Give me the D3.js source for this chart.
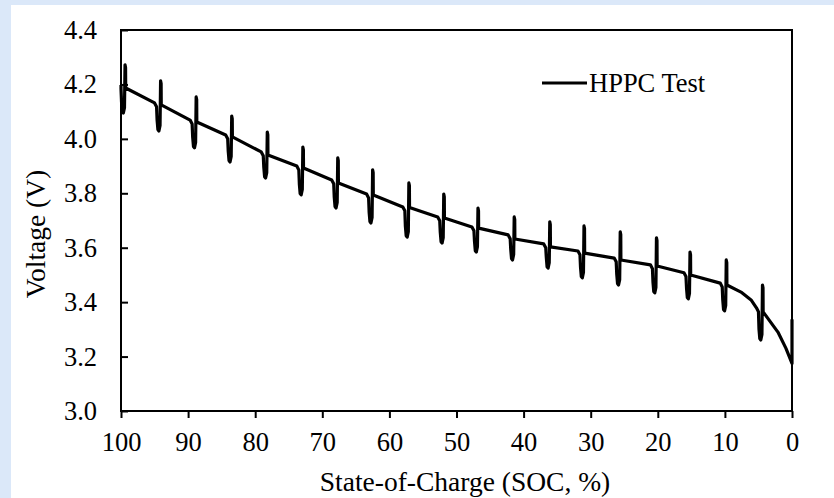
<!DOCTYPE html>
<html>
<head>
<meta charset="utf-8">
<script src="https://cdn.jsdelivr.net/npm/d3@7"></script>
<style>
  html, body { margin: 0; padding: 0; background: #dbe8f9; }
  svg { display: block; }
  text { font-family: "Liberation Serif", "Times New Roman", serif; fill: #000; }
</style>
</head>
<body>
<svg id="chart" width="834" height="498"></svg>
<script>
// ---- data ----
const socTicks = [100, 90, 80, 70, 60, 50, 40, 30, 20, 10, 0];
const voltTicks = [3.0, 3.2, 3.4, 3.6, 3.8, 4.0, 4.2, 4.4];
const seriesName = "HPPC Test";

// one HPPC pulse per ~5.3 % SOC step
const pulseSOC   = [99.3, 94.0, 88.7, 83.4, 78.1, 72.8, 67.6, 62.4, 57.0, 51.8, 46.7, 41.3, 36.0, 30.9, 25.5, 20.1, 15.1, 9.7, 4.3];
const lineBefore = [4.198, 4.132, 4.069, 4.014, 3.952, 3.900, 3.849, 3.797, 3.750, 3.713, 3.676, 3.647, 3.614, 3.588, 3.562, 3.537, 3.508, 3.470, 3.379];
const pulseMin   = [4.095, 4.029, 3.967, 3.915, 3.856, 3.794, 3.746, 3.691, 3.639, 3.617, 3.584, 3.555, 3.525, 3.489, 3.463, 3.434, 3.412, 3.368, 3.261];
const pulseMax   = [4.272, 4.213, 4.154, 4.084, 4.025, 3.970, 3.930, 3.886, 3.838, 3.797, 3.746, 3.713, 3.695, 3.680, 3.658, 3.636, 3.584, 3.555, 3.463];
const lineAfter  = [4.187, 4.125, 4.062, 4.007, 3.941, 3.893, 3.838, 3.794, 3.748, 3.709, 3.672, 3.632, 3.603, 3.580, 3.555, 3.533, 3.500, 3.463, 3.364];
// curved parts of the trace at low SOC
const bendSOC = [7.6, 6.1, 2.1, 0.9];
const bendV   = [3.437, 3.408, 3.290, 3.230];
const endSOC = 0, endV = 3.175, endSpikeV = 3.334;

// ---- layout ----
const svg = d3.select("#chart");
svg.append("rect").attr("x", 11).attr("y", 5).attr("width", 834 - 11).attr("height", 498 - 5).attr("fill", "#fff");

const pL = 121, pR = 792, pT = 30, pB = 411;
const x = d3.scaleLinear().domain([100, 0]).range([pL, pR]);
const y = d3.scaleLinear().domain([3.0, 4.4]).range([pB, pT]);

// build trace points
const pts = [];
pulseSOC.forEach((s, i) => {
  if (i === 0) pts.push([100, lineBefore[i]]);
  pts.push([Math.min(100, s + 1.0), lineBefore[i]]);
  pts.push([Math.min(100, s + 0.7), lineBefore[i] - 0.014]);
  pts.push([Math.min(100, s + 0.62), pulseMin[i] + 0.04]);
  pts.push([s + 0.5, pulseMin[i] + 0.005]);
  pts.push([s + 0.35, pulseMin[i]]);
  pts.push([s + 0.18, pulseMin[i] + 0.02]);
  pts.push([s + 0.1, pulseMax[i]]);
  pts.push([s + 0.02, pulseMax[i] - 0.01]);
  pts.push([s, lineAfter[i]]);
  const next = i + 1 < pulseSOC.length ? pulseSOC[i + 1] + 1.0 : endSOC;
  bendSOC.forEach((b, j) => { if (b < s && b > next) pts.push([b, bendV[j]]); });
});
pts.push([endSOC, endV]);
pts.push([endSOC, endSpikeV]);
pts.push([endSOC, endV + 0.005]);

const line = d3.line().x(d => x(d[0])).y(d => y(d[1]));
svg.append("path").datum(pts).attr("d", line)
  .attr("fill", "none").attr("stroke", "#000").attr("stroke-width", 3.2)
  .attr("stroke-linejoin", "round");

// frame
svg.append("rect").attr("x", pL).attr("y", pT).attr("width", pR - pL).attr("height", pB - pT)
  .attr("fill", "none").attr("stroke", "#000").attr("stroke-width", 2);

// y axis (inward ticks)
const yAxis = svg.append("g").attr("transform", `translate(${pL},0)`)
  .call(d3.axisLeft(y).tickValues(voltTicks).tickFormat(d3.format(".1f")).tickSize(-7).tickPadding(24));
yAxis.attr("font-family", null);
yAxis.select(".domain").remove();
yAxis.selectAll(".tick line").attr("stroke", "#000").attr("stroke-width", 2);
yAxis.selectAll(".tick text").attr("font-size", "26.5px");

// x axis (outward ticks)
const xAxis = svg.append("g").attr("transform", `translate(0,${pB})`)
  .call(d3.axisBottom(x).tickValues(socTicks).tickFormat(d3.format("d")).tickSize(7).tickPadding(14));
xAxis.attr("font-family", null);
xAxis.select(".domain").remove();
xAxis.selectAll(".tick line").attr("stroke", "#000").attr("stroke-width", 2);
xAxis.selectAll(".tick text").attr("font-size", "26.5px");

// axis titles
svg.append("text").attr("x", 465).attr("y", 491).attr("text-anchor", "middle")
  .attr("font-size", "27.5px").text("State-of-Charge (SOC, %)");
svg.append("text").attr("transform", "translate(45,234) rotate(-90)").attr("text-anchor", "middle")
  .attr("font-size", "27.5px").text("Voltage (V)");

// legend
svg.append("line").attr("x1", 542).attr("x2", 587).attr("y1", 83).attr("y2", 83)
  .attr("stroke", "#000").attr("stroke-width", 3);
svg.append("text").attr("x", 589).attr("y", 92).attr("font-size", "26.5px").text(seriesName);
</script>
</body>
</html>
